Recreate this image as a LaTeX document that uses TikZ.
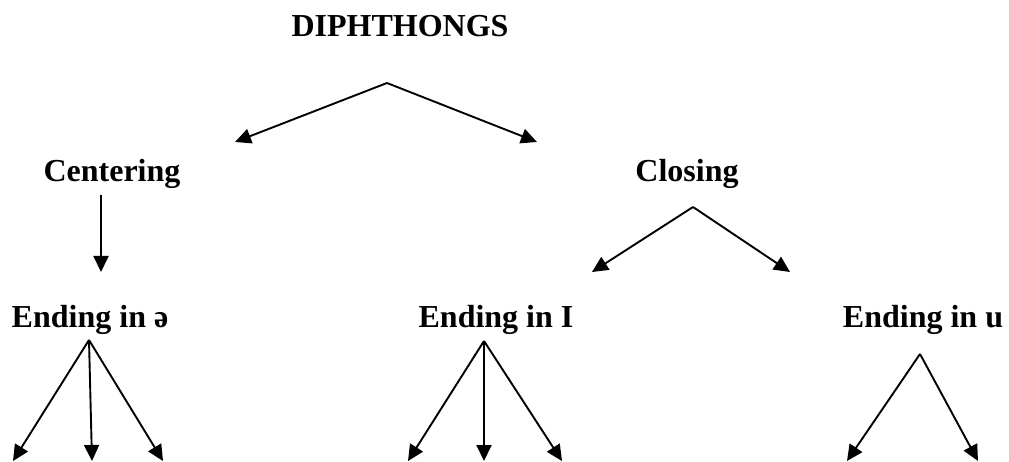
\documentclass[tikz,border=0pt]{standalone}
\usepackage{fontspec}
\setmainfont{Liberation Serif}
\usetikzlibrary{arrows.meta}
\begin{document}
\begin{tikzpicture}[x=1pt,y=-1pt,line join=round,line width=1.9pt,>={Triangle[length=16pt,width=15pt]}]
	\tikzset{every node/.style={font=\fontsize{32}{38}\selectfont\bfseries,inner sep=0pt},
		lbl/.style={anchor=base}}
	\useasboundingbox (0,0) rectangle (1009,462);
	% labels
	\node[lbl] (dip) at (400,37) {DIPHTHONGS};
	\node[lbl] (cen) at (112,182) {Centering};
	\node[lbl] (clo) at (687,182) {Closing};
	\node[lbl] (schwa) at (90,327) {Ending in ə};
	\node[lbl] (endi) at (496,327) {Ending in I};
	\node[lbl] (endu) at (923,327) {Ending in u};
	% branch points
	\coordinate (dipapex) at (387,83);
	\coordinate (cenapex) at (101,195);
	\coordinate (cenend) at (101,272);
	\coordinate (cloapex) at (693,207);
	\coordinate (schwaapex) at (89,340);
	\coordinate (endiapex) at (484,341);
	\coordinate (enduapex) at (920,354);
	\draw[->] (dipapex)--(235,142);
	\draw[->] (dipapex)--(537,142);
	\draw[->] (cenapex)--(cenend);
	\draw[->] (cloapex)--(592,272);
	\draw[->] (cloapex)--(790,272);
	\foreach \x in {13,92,163} \draw[->] (schwaapex)--(\x,461);
	\foreach \x in {408,484,562} \draw[->] (endiapex)--(\x,461);
	\foreach \x in {847,978} \draw[->] (enduapex)--(\x,461);
\end{tikzpicture}
\end{document}
